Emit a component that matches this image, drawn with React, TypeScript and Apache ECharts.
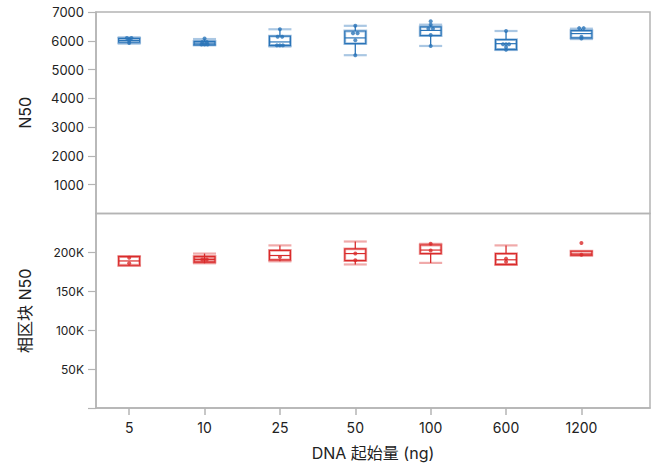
import React, { useEffect, useRef } from "react";
import * as echarts from "echarts";

const categories = ["5", "10", "25", "50", "100", "600", "1200"];
const catIndex = [0, 1, 2, 3, 4, 5, 6];

// [min, Q1, median, Q3, max]
const n50Box = [
  [5900, 5950, 6010, 6080, 6120],
  [5850, 5860, 5920, 5980, 6060],
  [5800, 5840, 5960, 6160, 6400],
  [5500, 5900, 6100, 6340, 6520],
  [5820, 6180, 6360, 6480, 6560],
  [5680, 5700, 5900, 6040, 6340],
  [6060, 6100, 6250, 6350, 6420],
];
// [x position (category index + jitter), value]
const n50Points = [
  [-0.03, 6100], [0.03, 6100], [0, 6040], [0, 6000], [0, 5920],
  [1, 6080], [0.97, 5960], [1.03, 5960], [0.96, 5870], [1, 5870], [1.04, 5870],
  [2, 6400], [1.97, 6140], [2.03, 6140], [1.96, 5840], [2, 5840], [2.04, 5840],
  [3, 6520], [2.97, 6260], [3.03, 6260], [3, 6020], [3, 5500],
  [4, 6680], [4, 6560], [3.97, 6420], [4.03, 6420], [4, 6200], [4, 5820],
  [5, 6340], [4.96, 5880], [5, 5880], [5.04, 5880], [5, 5780], [5, 5690],
  [5.97, 6440], [6.03, 6440], [6, 6140], [6, 6080],
];

const phaseBox = [
  [183000, 183500, 189000, 194500, 195000],
  [186000, 187500, 191000, 195000, 198500],
  [188500, 190500, 196000, 202500, 209000],
  [184500, 189500, 198500, 204500, 214000],
  [186500, 198500, 203000, 209500, 211000],
  [184000, 184500, 190500, 198500, 209000],
  [196000, 196500, 198000, 201500, 201500],
];
const phasePoints = [
  [0, 193000], [0, 186000],
  [0.97, 191000], [1.03, 191000],
  [2, 194000],
  [3, 198500], [3, 190000],
  [4, 211000], [4, 202500],
  [5, 192000], [5, 188000],
  [6, 212000], [6, 197000],
];

const topTicks = [1000, 2000, 3000, 4000, 5000, 6000, 7000];
const bottomTicks = [0, 50000, 100000, 150000, 200000];
const bottomLabels = [50000, 100000, 150000, 200000];

const FONT = "Inter, 'Noto Sans CJK SC', 'Noto Sans', sans-serif";
const AXIS_GRAY = "#b4b4b4";
const BLUE = "#2a74b8";
const BLUE_LIGHT = "rgba(42,116,184,0.4)";
const RED = "#d92b2b";
const RED_LIGHT = "rgba(217,43,43,0.4)";

function makeRender(dark: string, light: string, fillIdx: number[]) {
  return (params: any, api: any) => {
    const x = api.value(0);
    const pMin = api.coord([x, api.value(1)]);
    const pQ1 = api.coord([x, api.value(2)]);
    const pMed = api.coord([x, api.value(3)]);
    const pQ3 = api.coord([x, api.value(4)]);
    const pMax = api.coord([x, api.value(5)]);
    const cx = pMed[0];
    const hw = 10.5;
    const cap = 11.5;
    const filled = fillIdx.indexOf(params.dataIndex) >= 0;
    return {
      type: "group",
      children: [
        {
          type: "line",
          shape: { x1: cx, y1: pMin[1], x2: cx, y2: pMax[1] },
          style: { stroke: dark, lineWidth: 1.3 },
        },
        {
          type: "line",
          shape: { x1: cx - cap, y1: pMin[1], x2: cx + cap, y2: pMin[1] },
          style: { stroke: light, lineWidth: 2.2 },
        },
        {
          type: "line",
          shape: { x1: cx - cap, y1: pMax[1], x2: cx + cap, y2: pMax[1] },
          style: { stroke: light, lineWidth: 2.2 },
        },
        {
          type: "rect",
          shape: { x: cx - hw, y: pQ3[1], width: hw * 2, height: pQ1[1] - pQ3[1] },
          style: { fill: filled ? light : "#fff", stroke: light, lineWidth: 2.8 },
        },
        {
          type: "rect",
          shape: { x: cx - hw, y: pQ3[1], width: hw * 2, height: pQ1[1] - pQ3[1] },
          style: { fill: "none", stroke: dark, lineWidth: 1.2 },
        },
        {
          type: "line",
          shape: { x1: cx - hw, y1: pMed[1], x2: cx + hw, y2: pMed[1] },
          style: { stroke: dark, lineWidth: 1.2 },
        },
      ],
    };
  };
}

export default function App() {
  const ref = useRef<HTMLDivElement>(null);
  useEffect(() => {
    if (!ref.current) return;
    const chart = echarts.init(ref.current, null, { renderer: "svg" });
    const topData = n50Box.map((b, i) => [catIndex[i], ...b]);
    const botData = phaseBox.map((b, i) => [catIndex[i], ...b]);
    const xBase = {
      type: "value",
      min: -0.44,
      max: 6.91,
      splitLine: { show: false },
    };
    chart.setOption({
      animation: false,
      textStyle: { fontFamily: FONT },
      grid: [
        { left: 96, right: 3, top: 12, height: 201.5, show: true, borderColor: AXIS_GRAY, borderWidth: 1.5 },
        { left: 96, right: 3, top: 213.5, bottom: 58, show: true, borderColor: AXIS_GRAY, borderWidth: 1.5 },
      ],
      xAxis: [
        { ...xBase, gridIndex: 0, show: false },
        {
          ...xBase,
          gridIndex: 1,
          name: "DNA 起始量 (ng)",
          nameLocation: "middle",
          nameGap: 37,
          nameTextStyle: { fontSize: 16, color: "#222", fontFamily: FONT },
          axisLine: { show: true, onZero: false, lineStyle: { color: AXIS_GRAY, width: 1.5 } },
          axisTick: { show: true, length: 7, customValues: catIndex, lineStyle: { color: AXIS_GRAY, width: 1.5 } },
          axisLabel: {
            customValues: catIndex,
            formatter: (v: number) => categories[Math.round(v)] ?? "",
            fontSize: 14,
            color: "#222",
            margin: 12,
            fontFamily: FONT,
          },
        },
      ],
      yAxis: [
        {
          type: "value",
          gridIndex: 0,
          min: 0,
          max: 7000,
          interval: 1000,
          name: "N50",
          nameLocation: "middle",
          nameGap: 63,
          nameTextStyle: { fontSize: 16, color: "#222", fontFamily: FONT },
          splitLine: { show: false },
          axisLine: { show: true, onZero: false, lineStyle: { color: AXIS_GRAY, width: 1.5 } },
          axisTick: { show: true, length: 8, customValues: topTicks, lineStyle: { color: AXIS_GRAY, width: 1.2 } },
          axisLabel: {
            customValues: topTicks,
            formatter: (v: number) => String(v),
            fontSize: 13,
            color: "#222",
            margin: 12,
            fontFamily: FONT,
          },
        },
        {
          type: "value",
          gridIndex: 1,
          min: 0,
          max: 250000,
          interval: 50000,
          name: "相区块 N50",
          nameLocation: "middle",
          nameGap: 63,
          nameTextStyle: { fontSize: 16, color: "#222", fontFamily: FONT },
          splitLine: { show: false },
          axisLine: { show: true, onZero: false, lineStyle: { color: AXIS_GRAY, width: 1.5 } },
          axisTick: { show: true, length: 8, customValues: bottomTicks, lineStyle: { color: AXIS_GRAY, width: 1.2 } },
          axisLabel: {
            customValues: bottomLabels,
            formatter: (v: number) => v / 1000 + "K",
            fontSize: 12,
            color: "#222",
            margin: 12,
            fontFamily: FONT,
          },
        },
      ],
      series: [
        {
          type: "custom",
          xAxisIndex: 0,
          yAxisIndex: 0,
          data: topData,
          encode: { x: 0, y: [1, 2, 3, 4, 5] },
          renderItem: makeRender(BLUE, BLUE_LIGHT, []),
        },
        {
          type: "scatter",
          xAxisIndex: 0,
          yAxisIndex: 0,
          data: n50Points,
          symbolSize: 4,
          itemStyle: { color: BLUE },
        },
        {
          type: "custom",
          xAxisIndex: 1,
          yAxisIndex: 1,
          data: botData,
          encode: { x: 0, y: [1, 2, 3, 4, 5] },
          renderItem: makeRender(RED, RED_LIGHT, [1]),
        },
        {
          type: "scatter",
          xAxisIndex: 1,
          yAxisIndex: 1,
          data: phasePoints,
          symbolSize: 4,
          itemStyle: { color: RED },
        },
      ],
    });
    return () => chart.dispose();
  }, []);
  return <div ref={ref} style={{ width: 653, height: 466, position: "absolute", left: 0, top: 0 }} />;
}
